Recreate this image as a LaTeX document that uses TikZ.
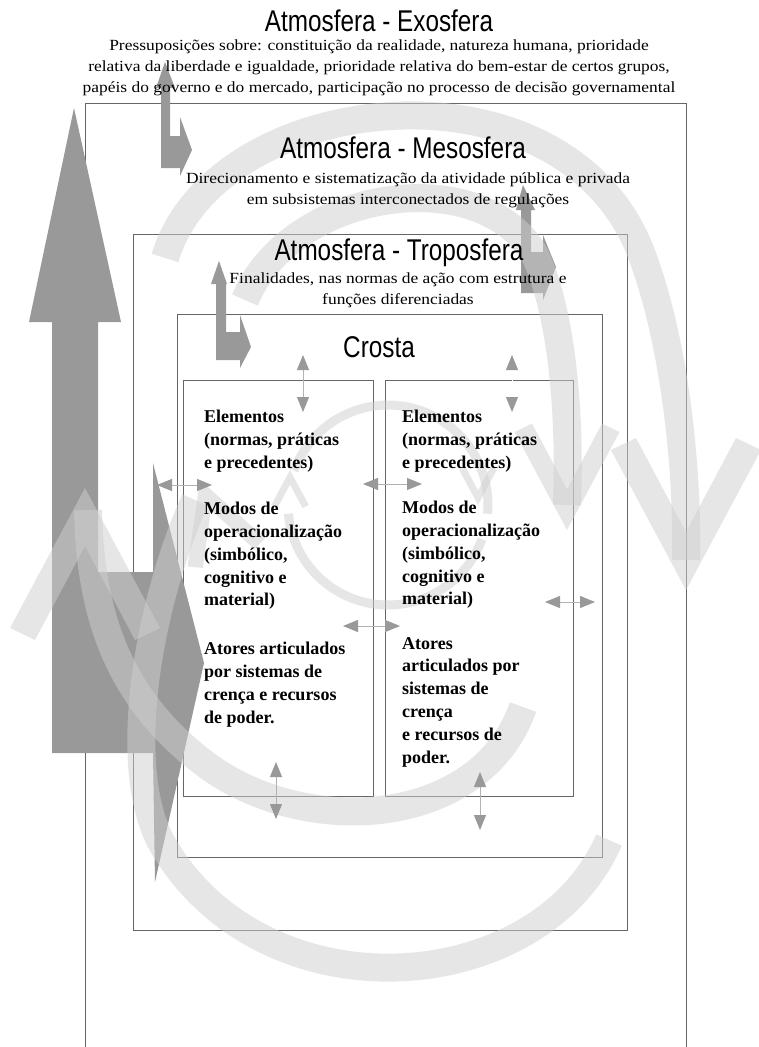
\documentclass[tikz,border=0pt]{standalone}
\usepackage{fontspec}
\setmainfont{Liberation Serif}
\newfontfamily\spherefont{Liberation Sans}
\usetikzlibrary{arrows.meta}

\tikzset{
  frame/.style={draw=black!60, line width=0.9pt},
  bigarrow/.style={fill=black!40},
  band/.style={draw=black!19, draw opacity=0.5, line width=#1},
  band/.default=28pt,
  wash/.style={fill=black!19, fill opacity=0.5},
  sphere/.style={font=\spherefont\fontsize{30}{32}\selectfont, xscale=0.81, inner sep=0pt},
  note/.style={font=\fontsize{15.5}{21}\selectfont, align=center, xscale=1.125, inner sep=0pt},
  item/.style={font=\bfseries\fontsize{18}{22.8}\selectfont, align=left, anchor=north west, inner sep=0pt},
  link/.style={draw=black!30, line width=1pt, {Triangle[length=15pt,width=12pt,color=black!40]}-{Triangle[length=15pt,width=12pt,color=black!40]}},
  pics/chev/.style={code={\fill[wash] (0,0) -- (-75,140) -- (-50,152) -- (0,58) -- (50,152) -- (75,140) -- cycle;}},
}

\begin{document}
\begin{tikzpicture}[x=1pt,y=-1pt]
\fill[white] (0,0) rectangle (758,1047);
\useasboundingbox (0,0) rectangle (758,1047);

\draw[frame] (85,1047) |- (686,103) -- (686,1047);
\node[frame, anchor=north west, minimum width=494pt, minimum height=696pt] (tropo) at (133,234) {};
\node[frame, anchor=north west, minimum width=425pt, minimum height=543pt] (crosta) at (177,314) {};
\node[frame, anchor=north west, minimum width=190pt, minimum height=416pt] (lbox) at (183,380) {};
\node[frame, anchor=north west, minimum width=188pt, minimum height=416pt] (rbox) at (385,380) {};

\fill[bigarrow] (74,108) -- (121,322) -- (98,322) -- (98,572) -- (153,572) -- (153,463) -- (204,663) -- (155,882) -- (153,753) -- (52,753) -- (52,322) -- (29,322) -- cycle;
\fill[bigarrow] (165,62) -- (175,88) -- (170,88) -- (170,136) -- (180,136) -- (180,117) -- (192,150) -- (180,176) -- (180,168) -- (161,168) -- (161,88) -- (156,88) -- cycle;
\fill[bigarrow] (219,261) -- (227,284) -- (226,284) -- (226,332) -- (240,332) -- (240,315) -- (251,347) -- (240,368) -- (240,360) -- (216,360) -- (216,284) -- (211,284) -- cycle;
\fill[bigarrow] (523,185) -- (535,210) -- (531,210) -- (531,252) -- (543,252) -- (543,235) -- (556,267) -- (543,300) -- (543,293) -- (521,293) -- (521,210) -- (516,210) -- cycle;

\draw[band] (165,258) .. controls (215,90) and (560,50) .. (640,250) .. controls (675,340) and (688,470) .. (686,560);
\pic[rotate=180] at (686,590) {chev};
\draw[band] (245,300) .. controls (290,190) and (480,160) .. (535,255) .. controls (565,320) and (570,430) .. (567,505);
\pic[rotate=180, scale=0.7] at (567,530) {chev};
\draw[band] (609,840) .. controls (540,1000) and (260,1020) .. (160,840) .. controls (120,760) and (150,600) .. (195,500);
\pic[rotate=20, scale=0.55] at (200,480) {chev};
\draw[band] (523,707) .. controls (480,830) and (300,840) .. (200,760) .. controls (110,690) and (90,600) .. (88,510);
\pic at (85,488) {chev};
\draw[band=9pt] plot[domain=160:-5, samples=40] ({388+100*cos(\x)},{505-100*sin(\x)});
\pic[rotate=180, scale=0.25] at (478,505) {chev};
\draw[band=9pt] plot[domain=-20:-175, samples=40] ({388+100*cos(\x)},{505-100*sin(\x)});
\pic[scale=0.25] at (290,470) {chev};

\coordinate (u1) at (303,355); \coordinate (u2) at (303,412);
\coordinate (v1) at (512,355); \coordinate (v2) at (512,412);
\coordinate (h1) at (157,485); \coordinate (h2) at (212,485);
\coordinate (m1) at (363,484); \coordinate (m2) at (422,484);
\coordinate (n1) at (343,626); \coordinate (n2) at (400,626);
\coordinate (r1) at (545,602); \coordinate (r2) at (595,602);
\coordinate (b1) at (276,762); \coordinate (b2) at (276,819);
\coordinate (c1) at (480,772); \coordinate (c2) at (480,830);
\draw[link] (u1) -- (u2);
\draw[link, draw=white] (v1) -- (v2);
\draw[link] (h1) -- (h2);
\draw[link] (m1) -- (m2);
\draw[link] (n1) -- (n2);
\draw[link] (r1) -- (r2);
\draw[link] (b1) -- (b2);
\draw[link] (c1) -- (c2);

\node[sphere] (exo) at (379,21) {Atmosfera - Exosfera};
\node[note] (exonote) at (379,68) {Pressuposições sobre: constituição da realidade, natureza humana, prioridade\\relativa da liberdade e igualdade, prioridade relativa do bem-estar de certos grupos,\\papéis do governo e do mercado, participação no processo de decisão governamental};
\node[sphere] (meso) at (403,148) {Atmosfera - Mesosfera};
\node[note] (mesonote) at (408,190) {Direcionamento e sistematização da atividade pública e privada\\em subsistemas interconectados de regulações};
\node[sphere] (tropot) at (399,253) {Atmosfera - Troposfera};
\node[note] (troponote) at (398,290) {Finalidades, nas normas de ação com estrutura e\\funções diferenciadas};
\node[sphere] (crostat) at (379,347) {Crosta};

\node[item] (lelem) at (204,410) {Elementos\\(normas, práticas\\e precedentes)};
\node[item] (lmodos) at (204,502) {Modos de\\operacionalização\\(simbólico,\\cognitivo e\\material)};
\node[item] (latores) at (204,642) {Atores articulados\\por sistemas de\\crença e recursos\\de poder.};
\node[item] (relem) at (402,410) {Elementos\\(normas, práticas\\e precedentes)};
\node[item] (rmodos) at (402,501) {Modos de\\operacionalização\\(simbólico,\\cognitivo e\\material)};
\node[item] (ratores) at (402,637) {Atores\\articulados por\\sistemas de\\crença\\e recursos de\\poder.};
\end{tikzpicture}
\end{document}
